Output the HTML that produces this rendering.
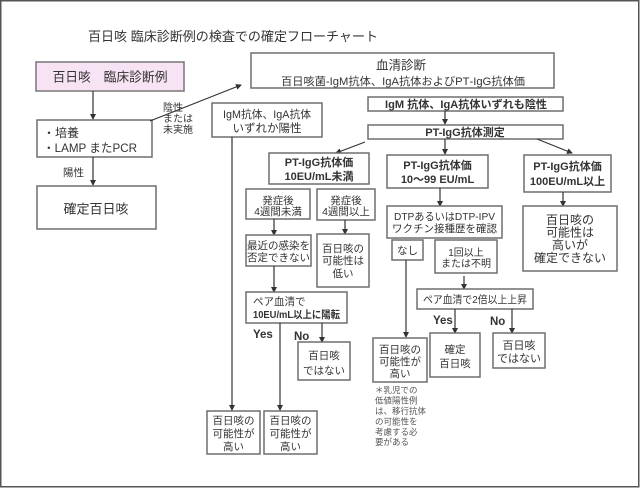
<!DOCTYPE html>
<html><head><meta charset="utf-8">
<style>
html,body{margin:0;padding:0;background:#fff;}
svg{display:block;}
text{font-family:"Liberation Sans","Noto Sans CJK JP",sans-serif;fill:#333;}
.b{font-weight:bold;}
.m{text-anchor:middle;}
rect.bx{fill:#fff;stroke:#6e6e6e;stroke-width:1.5;}
line.ln{stroke:#333;stroke-width:1.2;}
</style></head>
<body>
<svg width="640" height="488" viewBox="0 0 640 488" xmlns="http://www.w3.org/2000/svg">
<defs>
<marker id="ah" markerWidth="6" markerHeight="6" refX="5" refY="3" orient="auto" markerUnits="userSpaceOnUse">
<path d="M0,0 L6,3 L0,6 z" fill="#333"/>
</marker>
</defs>
<rect x="0.75" y="0.75" width="638" height="486" fill="#fff" stroke="#555" stroke-width="1.5"/>

<!-- title -->
<text x="88" y="41" font-size="13" textLength="290" lengthAdjust="spacingAndGlyphs">百日咳 臨床診断例の検査での確定フローチャート</text>

<!-- left column -->
<rect x="36" y="62" width="148" height="29" fill="#f7e3f3" stroke="#777" stroke-width="1.5"/>
<text x="110" y="81.5" font-size="13" class="m" textLength="115" lengthAdjust="spacingAndGlyphs">百日咳　臨床診断例</text>
<line class="ln" x1="93" y1="91" x2="93" y2="119" marker-end="url(#ah)"/>

<rect class="bx" x="37" y="120" width="115" height="37"/>
<text x="43" y="137" font-size="12">・培養</text>
<text x="43" y="152" font-size="12" textLength="94" lengthAdjust="spacingAndGlyphs">・LAMP またPCR</text>
<line class="ln" x1="93" y1="157" x2="93" y2="185" marker-end="url(#ah)"/>
<text x="63" y="176" font-size="10.5">陽性</text>

<rect class="bx" x="37" y="186" width="119" height="43"/>
<text x="96" y="213.5" font-size="13" class="m">確定百日咳</text>

<line class="ln" x1="150" y1="121" x2="241" y2="85" marker-end="url(#ah)"/>
<text x="163" y="111" font-size="10">陰性</text>
<text x="163" y="122" font-size="10">または</text>
<text x="163" y="133" font-size="10">未実施</text>

<!-- serum -->
<rect class="bx" x="251" y="53" width="303" height="35"/>
<text x="401" y="69.5" font-size="12.5" class="m">血清診断</text>
<text x="403" y="85" font-size="11" class="m" textLength="244" lengthAdjust="spacingAndGlyphs">百日咳菌‐IgM抗体、IgA抗体およびPT‐IgG抗体価</text>

<rect class="bx" x="368" y="97" width="195" height="14"/>
<text x="466" y="108" font-size="11" class="m b" textLength="162" lengthAdjust="spacingAndGlyphs">IgM 抗体、IgA抗体いずれも陰性</text>
<line class="ln" x1="445" y1="111" x2="445" y2="124" marker-end="url(#ah)"/>

<rect class="bx" x="368" y="125" width="195" height="14"/>
<text x="465" y="136" font-size="11" class="m b">PT-IgG抗体測定</text>

<line class="ln" x1="365" y1="142" x2="336" y2="153" marker-end="url(#ah)"/>
<line class="ln" x1="445" y1="139" x2="445" y2="154" marker-end="url(#ah)"/>
<line class="ln" x1="537" y1="139" x2="572" y2="153" marker-end="url(#ah)"/>

<!-- IgM/IgA positive -->
<rect class="bx" x="212" y="103" width="110" height="34"/>
<text x="267" y="118" font-size="11" class="m" textLength="88" lengthAdjust="spacingAndGlyphs">IgM抗体、IgA抗体</text>
<text x="267" y="132" font-size="11.5" class="m">いずれか陽性</text>
<line class="ln" x1="232" y1="137" x2="232" y2="410" marker-end="url(#ah)"/>

<!-- PT-IgG boxes -->
<rect class="bx" x="269" y="153" width="100" height="31"/>
<text x="319" y="166" font-size="11" class="m b">PT-IgG抗体価</text>
<text x="319" y="180" font-size="11" class="m b">10EU/mL未満</text>

<rect class="bx" x="387" y="155" width="101" height="33"/>
<text x="437.5" y="169" font-size="11" class="m b">PT-IgG抗体価</text>
<text x="437.5" y="183" font-size="11" class="m b">10〜99 EU/mL</text>

<rect class="bx" x="524" y="155" width="87" height="37"/>
<text x="567.5" y="170" font-size="11" class="m b">PT-IgG抗体価</text>
<text x="567.5" y="185" font-size="11" class="m b">100EU/mL以上</text>

<line class="ln" x1="563" y1="192" x2="563" y2="206" marker-end="url(#ah)"/>
<rect class="bx" x="523" y="206" width="94" height="65"/>
<text x="570" y="224" font-size="12" class="m">百日咳の</text>
<text x="570" y="236.5" font-size="12" class="m">可能性は</text>
<text x="570" y="249" font-size="12" class="m">高いが</text>
<text x="570" y="262" font-size="12" class="m">確定できない</text>

<!-- <10 branch -->
<rect class="bx" x="246" y="189" width="64" height="30"/>
<text x="278" y="204" font-size="10.5" class="m">発症後</text>
<text x="278" y="215" font-size="10.5" class="m">4週間未満</text>
<rect class="bx" x="317" y="189" width="58" height="31"/>
<text x="346" y="204" font-size="10.5" class="m">発症後</text>
<text x="346" y="215" font-size="10.5" class="m">4週間以上</text>

<line class="ln" x1="274" y1="219" x2="274" y2="235" marker-end="url(#ah)"/>
<line class="ln" x1="345" y1="220" x2="345" y2="234" marker-end="url(#ah)"/>

<rect class="bx" x="246" y="235" width="65" height="31"/>
<text x="278.5" y="249" font-size="10.5" class="m">最近の感染を</text>
<text x="278.5" y="261" font-size="10.5" class="m">否定できない</text>

<rect class="bx" x="317" y="234" width="52" height="53"/>
<text x="343" y="252" font-size="10.5" class="m">百日咳の</text>
<text x="343" y="264" font-size="10.5" class="m">可能性は</text>
<text x="343" y="277" font-size="10.5" class="m">低い</text>

<line class="ln" x1="274" y1="266" x2="274" y2="292" marker-end="url(#ah)"/>
<rect class="bx" x="246" y="292" width="101" height="31"/>
<text x="253" y="305" font-size="10.5">ペア血清で</text>
<text x="253" y="318" font-size="10.5" class="b" textLength="87" lengthAdjust="spacingAndGlyphs">10EU/mL以上に陽転</text>

<text x="253" y="338" font-size="11.5" class="b">Yes</text>
<line class="ln" x1="280" y1="323" x2="280" y2="410" marker-end="url(#ah)"/>
<text x="294" y="340" font-size="11.5" class="b">No</text>
<line class="ln" x1="322" y1="323" x2="322" y2="342" marker-end="url(#ah)"/>

<rect class="bx" x="298" y="342" width="52" height="38"/>
<text x="324" y="359" font-size="10.5" class="m">百日咳</text>
<text x="324" y="374" font-size="10.5" class="m">ではない</text>

<rect class="bx" x="207" y="411" width="53" height="43"/>
<text x="233.5" y="424" font-size="10.5" class="m">百日咳の</text>
<text x="233.5" y="437" font-size="10.5" class="m">可能性が</text>
<text x="233.5" y="450" font-size="10.5" class="m">高い</text>
<rect class="bx" x="264" y="411" width="53" height="43"/>
<text x="290.5" y="424" font-size="10.5" class="m">百日咳の</text>
<text x="290.5" y="437" font-size="10.5" class="m">可能性が</text>
<text x="290.5" y="450" font-size="10.5" class="m">高い</text>

<!-- 10-99 branch -->
<line class="ln" x1="440" y1="188" x2="440" y2="206" marker-end="url(#ah)"/>
<rect class="bx" x="387" y="206" width="115" height="32"/>
<text x="444.5" y="220" font-size="10.5" class="m" textLength="101" lengthAdjust="spacingAndGlyphs">DTPあるいはDTP‐IPV</text>
<text x="444.5" y="232" font-size="10.5" class="m">ワクチン接種歴を確認</text>

<rect class="bx" x="392" y="240" width="31" height="20"/>
<text x="407.5" y="254" font-size="10.5" class="m">なし</text>
<rect class="bx" x="435" y="240" width="62" height="33"/>
<text x="466" y="256" font-size="10" class="m">1回以上</text>
<text x="466" y="267" font-size="10" class="m">または不明</text>

<line class="ln" x1="406" y1="260" x2="406" y2="337" marker-end="url(#ah)"/>
<line class="ln" x1="464" y1="276" x2="464" y2="289" marker-end="url(#ah)"/>

<rect class="bx" x="417" y="289" width="116" height="20"/>
<text x="475" y="303" font-size="10.5" class="m" textLength="104" lengthAdjust="spacingAndGlyphs">ペア血清で2倍以上上昇</text>

<text x="433" y="324" font-size="11.5" class="b">Yes</text>
<line class="ln" x1="455" y1="309" x2="455" y2="333" marker-end="url(#ah)"/>
<text x="490" y="325" font-size="11.5" class="b">No</text>
<line class="ln" x1="512" y1="309" x2="512" y2="333" marker-end="url(#ah)"/>

<rect class="bx" x="430" y="333" width="50" height="44"/>
<text x="455" y="353" font-size="10.5" class="m">確定</text>
<text x="455" y="367" font-size="10.5" class="m">百日咳</text>

<rect class="bx" x="493" y="333" width="52" height="35"/>
<text x="519" y="349" font-size="11" class="m">百日咳</text>
<text x="519" y="362" font-size="11" class="m">ではない</text>

<rect class="bx" x="373" y="338" width="54" height="44"/>
<text x="400" y="353" font-size="10.5" class="m">百日咳の</text>
<text x="400" y="365" font-size="10.5" class="m">可能性が</text>
<text x="400" y="377" font-size="10.5" class="m">高い</text>

<g font-size="8.5">
<text x="375" y="393" style="fill:#555">＊乳児での</text>
<text x="375" y="403.5" style="fill:#555">低値陽性例</text>
<text x="375" y="414" style="fill:#555">は、移行抗体</text>
<text x="375" y="424.5" style="fill:#555">の可能性を</text>
<text x="375" y="435" style="fill:#555">考慮する必</text>
<text x="375" y="445" style="fill:#555">要がある</text>
</g>
</svg>
</body></html>
